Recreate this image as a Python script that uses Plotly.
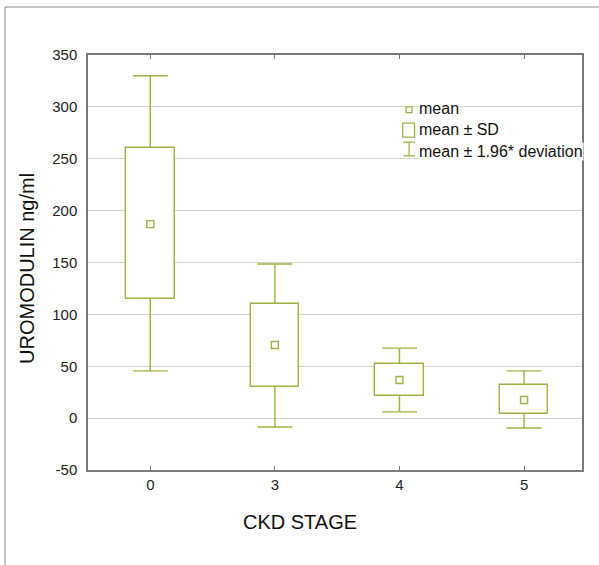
import plotly.graph_objects as go

# Data
stages = ["0", "3", "4", "5"]
means = [187, 70.5, 36.7, 17.4]
sd_low = [115, 30, 21, 4]
sd_high = [260.5, 110, 52, 32]
dev_low = [45.5, -8.5, 6, -9.5]
dev_high = [330, 148.5, 67.5, 45.5]

y_ticks = [-50, 0, 50, 100, 150, 200, 250, 300, 350]
y_tick_text = ["-50", "0", "50", "100", "150", "200", "250", "300", "350"]

GREEN = "#9CB443"
AXIS = "#7a7a7a"
GRID = "#d3d3d3"
FONT = "Liberation Sans Narrow, Arial Narrow, Liberation Sans, sans-serif"

fig = go.Figure()

# mean ± SD boxes
fig.add_trace(go.Bar(
    x=stages,
    base=sd_low,
    y=[hi - lo for hi, lo in zip(sd_high, sd_low)],
    width=0.39,
    marker=dict(color="white", line=dict(color=GREEN, width=1.4)),
    showlegend=False,
    hoverinfo="skip",
))

# whisker stems (mean ± 1.96 deviation)
wx, wy = [], []
for s, lo, hi, dlo, dhi in zip(stages, sd_low, sd_high, dev_low, dev_high):
    wx += [s, s, None, s, s, None]
    wy += [hi, dhi, None, lo, dlo, None]
fig.add_trace(go.Scatter(
    x=wx, y=wy, mode="lines", line=dict(color=GREEN, width=1.4),
    showlegend=False, hoverinfo="skip",
))
# whisker caps
fig.add_trace(go.Scatter(
    x=stages + stages, y=dev_high + dev_low, mode="markers",
    marker=dict(symbol="line-ew", size=25, color=GREEN, line=dict(color=GREEN, width=1.4)),
    showlegend=False, hoverinfo="skip",
))

# means
fig.add_trace(go.Scatter(
    x=stages,
    y=means,
    mode="markers",
    marker=dict(symbol="square-open", size=7, color=GREEN, line=dict(width=1.4, color=GREEN)),
    showlegend=False,
    hoverinfo="skip",
))

# Outer frame (top and left edges of the figure border)
fig.add_shape(type="line", xref="paper", yref="paper", x0=-0.168, x1=1.1, y0=1.1157, y1=1.1157,
              line=dict(color="#8a8a8a", width=1))
fig.add_shape(type="line", xref="paper", yref="paper", x0=-0.168, x1=-0.168, y0=-0.3, y1=1.1157,
              line=dict(color="#8a8a8a", width=1))

# Custom legend (icons + labels) in the upper right
lx = 0.650  # icon centre in paper coords
fig.add_shape(type="rect", xref="paper", yref="paper", x0=lx - 0.006, x1=lx + 0.006,
              y0=0.861, y1=0.875, line=dict(color=GREEN, width=1.3), fillcolor="white")
fig.add_shape(type="rect", xref="paper", yref="paper", x0=lx - 0.013, x1=lx + 0.011,
              y0=0.802, y1=0.836, line=dict(color=GREEN, width=1.3), fillcolor="white")
fig.add_shape(type="line", xref="paper", yref="paper", x0=lx, x1=lx,
              y0=0.757, y1=0.790, line=dict(color=GREEN, width=1.3))
fig.add_shape(type="line", xref="paper", yref="paper", x0=lx - 0.012, x1=lx + 0.012,
              y0=0.790, y1=0.790, line=dict(color=GREEN, width=1.3))
fig.add_shape(type="line", xref="paper", yref="paper", x0=lx - 0.012, x1=lx + 0.012,
              y0=0.757, y1=0.757, line=dict(color=GREEN, width=1.3))

legend_items = [("mean", 0.872), ("mean ± SD", 0.821), ("mean ± 1.96* deviation", 0.768)]
for txt, yy in legend_items:
    fig.add_annotation(xref="paper", yref="paper", x=0.668, y=yy, text=txt, showarrow=False,
                       xanchor="left", yanchor="middle", bgcolor="white", borderpad=0,
                       font=dict(family=FONT, size=16, color="#111111"))

# Axis titles
fig.add_annotation(xref="paper", yref="paper", x=0.429, y=-0.125, text="CKD STAGE", showarrow=False,
                   xanchor="center", yanchor="middle", font=dict(family=FONT, size=20, color="#111111"))
fig.add_annotation(xref="paper", yref="paper", x=-0.125, y=0.485, text="UROMODULIN ng/ml", showarrow=False,
                   textangle=-90, xanchor="center", yanchor="middle",
                   font=dict(family=FONT, size=20, color="#111111"))

fig.update_layout(
    width=599, height=565,
    margin=dict(l=88, r=17, t=55, b=95),
    paper_bgcolor="white", plot_bgcolor="white",
    font=dict(family=FONT, size=15, color="#222222"),
    showlegend=False,
    bargap=0,
)
fig.update_xaxes(
    type="category", range=[-0.5, 3.465],
    showline=True, linecolor=AXIS, linewidth=1.5, mirror="ticks",
    ticks="inside", ticklen=4, tickcolor=AXIS, tickwidth=1,
    showgrid=False, zeroline=False, tickfont=dict(size=15),
)
fig.update_yaxes(
    range=[-50, 350], tickvals=y_ticks, ticktext=y_tick_text,
    showline=True, linecolor=AXIS, linewidth=1.5, mirror=True,
    ticks="", ticklabelstandoff=6, showgrid=True, gridcolor=GRID, gridwidth=1.2,
    zeroline=False, tickfont=dict(size=15),
)

fig.write_html("out.html", config={"displayModeBar": False},
               post_script="document.body.style.margin='0';")
